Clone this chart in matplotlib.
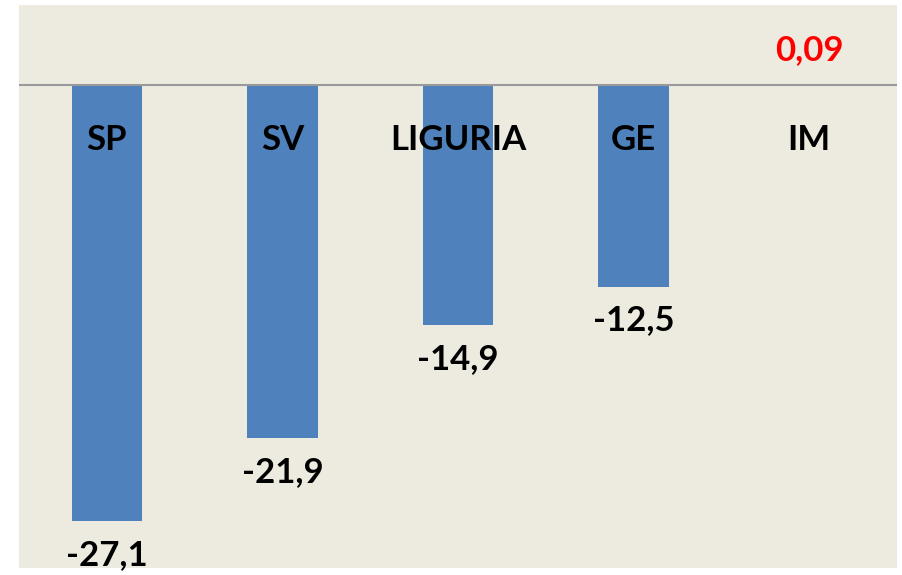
import matplotlib
matplotlib.use("Agg")
import matplotlib.pyplot as plt

categories = ["SP", "SV", "LIGURIA", "GE", "IM"]
values = [-27.1, -21.9, -14.9, -12.5, 0.09]
value_labels = ["-27,1", "-21,9", "-14,9", "-12,5", "0,09"]

BG = "#EDEAE0"
BAR = "#4F81BD"

plt.rcParams['font.family'] = ['Lato', 'DejaVu Sans']

fig = plt.figure(figsize=(9.02, 5.75), dpi=100)
ax = fig.add_axes([19/902, 7/575, 878/902, 563/575])
ax.set_facecolor(BG)
for s in ax.spines.values():
    s.set_visible(False)
ax.set_xticks([])
ax.set_yticks([])
ax.set_xlim(-0.5, 4.5)
ax.set_ylim(-30, 5)

x = range(len(categories))
ax.bar(x, values, width=0.4, color=BAR, zorder=2)
ax.axhline(0, color="#9A9A9A", lw=1.5, zorder=3)

for i, (cat, v, lab) in enumerate(zip(categories, values, value_labels)):
    # category name inside the upper part of the plot
    ax.text(i, -3.4, cat, ha="center", va="center", fontsize=25,
            fontweight="bold", color="black", zorder=4)
    # value label just beyond the end of the bar
    if v < 0:
        ax.annotate(lab, (i, v), xytext=(0, -34), textcoords="offset pixels",
                    ha="center", va="center", fontsize=25, fontweight="bold",
                    color="black", annotation_clip=False, zorder=4)
    else:
        ax.annotate(lab, (i, v), xytext=(0, 34), textcoords="offset pixels",
                    ha="center", va="center", fontsize=25, fontweight="bold",
                    color="red", annotation_clip=False, zorder=4)

fig.savefig("out.png", dpi=100, facecolor="white")
